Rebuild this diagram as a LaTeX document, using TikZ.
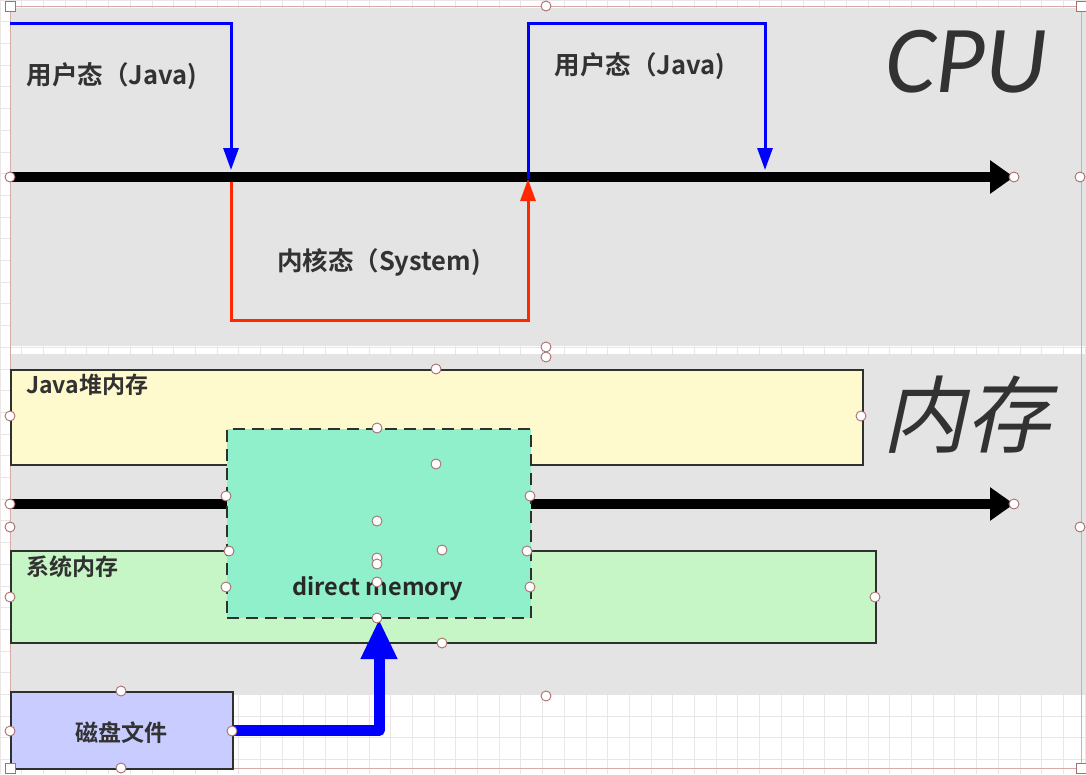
\documentclass[tikz,border=0pt]{standalone}
\usepackage{fontspec}
\usetikzlibrary{arrows.meta}
\newfontfamily\cjk{Noto Sans CJK SC}
\newfontfamily\cjkbold{Noto Sans CJK SC Bold}
\newfontfamily\cjkslant{Noto Sans CJK SC}[FakeSlant=0.22]
\newfontfamily\carl{Carlito}
\definecolor{panelc}{RGB}{228,228,228}
\definecolor{gridc}{RGB}{234,230,230}
\definecolor{heapc}{RGB}{255,250,205}
\definecolor{sysc}{RGB}{198,245,198}
\definecolor{dmc}{RGB}{144,240,204}
\definecolor{diskc}{RGB}{200,204,255}
\definecolor{edgec}{RGB}{45,50,45}
\definecolor{txtc}{RGB}{50,50,50}
\definecolor{handc}{RGB}{170,110,110}
\definecolor{framec}{RGB}{215,170,170}
\definecolor{redc}{RGB}{255,40,0}
\tikzset{
  membox/.style={draw=edgec, line width=2pt, anchor=north west, inner sep=0pt},
  lbl/.style={font=\cjkbold\fontsize{25.5}{27}\selectfont, text=txtc, inner sep=0pt},
  smalllbl/.style={font=\cjkbold\fontsize{23}{25}\selectfont, text=txtc, inner sep=0pt},
  axis/.style={line width=10pt, -{Triangle[length=24pt,width=32pt]}},
  bluearr/.style={draw=blue, line width=3pt, -{Triangle[length=22pt,width=15pt]}},
  redarr/.style={draw=redc, line width=3pt, -{Triangle[length=22pt,width=15pt]}},
  fatarr/.style={draw=blue, line width=11pt, line join=round, -{Triangle[length=40pt,width=34pt]}},
  handle/.style={circle, draw=handc, fill=white, line width=0.9pt, inner sep=0pt, minimum size=10pt},
  sqhandle/.style={rectangle, draw=handc, fill=white, line width=0.9pt, inner sep=0pt, minimum size=10pt}
}
\begin{document}
\begin{tikzpicture}[x=1pt,y=-1pt]
\useasboundingbox (0,0) rectangle (1086,774);
\fill[white] (0,0) rectangle (1086,774);
\draw[gridc, line width=0.7pt, step=21.7pt] (0,0) grid (1086,774);
% panels
\fill[panelc] (10,8) rectangle (1086,346);
\fill[panelc] (10,354) rectangle (1086,695);
% selection frame
\draw[framec, line width=0.8pt] (10,6) rectangle (1081,768);

% ---------- CPU ----------
\coordinate (cpuA) at (10,177);
\coordinate (cpuB) at (1014,177);
\draw[axis] (cpuA) -- (cpuB);

\coordinate (u1s) at (10,23);
\coordinate (u1t) at (231,170);
\draw[bluearr] (u1s) -| (u1t);

\coordinate (k1s) at (231,182);
\coordinate (k1c) at (528,320);
\coordinate (k1t) at (528,179);
\draw[redarr] (k1s) |- (k1c) -- (k1t);

\coordinate (u2s) at (528,179);
\coordinate (u2c) at (765,23);
\coordinate (u2t) at (765,170);
\draw[bluearr] (u2s) |- (u2c) -- (u2t);

\node[lbl] (user1) at (112,76) {用户态（Java)};
\node[lbl] (kern) at (379,262) {内核态（System)};
\node[lbl] (user2) at (640,66) {用户态（Java)};
\node[font=\carl\itshape\fontsize{96}{96}\selectfont, text=txtc, inner sep=0pt] (cpu) at (966,62) {CPU};

% ---------- Memory ----------
\node[membox, fill=heapc, minimum width=852pt, minimum height=95pt] (heap) at (10,369) {};
\node[smalllbl, anchor=west] (heapL) at (26,385) {Java堆内存};
\node[membox, fill=sysc, minimum width=865pt, minimum height=92pt] (sys) at (10,550) {};
\node[smalllbl, anchor=west] (sysL) at (26,567) {系统内存};

\coordinate (memA) at (10,504);
\coordinate (memB) at (1014,504);
\draw[axis] (memA) -- (memB);

\node[membox, fill=dmc, dash pattern=on 12pt off 7pt, minimum width=304pt, minimum height=189pt] (dm) at (226,428) {};
\node[font=\cjkbold\fontsize{23.5}{25}\selectfont, text=txtc!80!black, inner sep=0pt] (dmL) at (378,589) {direct memory};

\node[font=\cjkslant\fontsize{84}{84}\selectfont, text=txtc, inner sep=0pt] (mem) at (966,415) {内存};

% ---------- disk ----------
\node[membox, fill=diskc, minimum width=222pt, minimum height=77pt] (disk) at (10,691) {};
\node[smalllbl] (diskL) at (121,733) {磁盘文件};
\draw[fatarr] (disk.east) -| (dm.south);

% ---------- selection handles ----------
\foreach \p in {(10,177),(1014,177),(1080,177),(546,6),(546,347),(546,357),
  (436,369),(10,416),(861,416),(377,428),(436,464),(226,496),(530,496),
  (10,504),(1014,504),(1080,527),(10,527),(377,521),(229,551),(527,551),(442,550),
  (377,558),(377,564),(377,582),(10,597),(226,587),(530,587),(875,597),
  (377,618),(442,643),(546,696),(121,691),(10,731),(232,731),(121,768)}
  \node[handle] at \p {};
\foreach \p in {(10,6),(1081,6),(10,768),(1081,768)}
  \node[sqhandle] at \p {};
\end{tikzpicture}
\end{document}
